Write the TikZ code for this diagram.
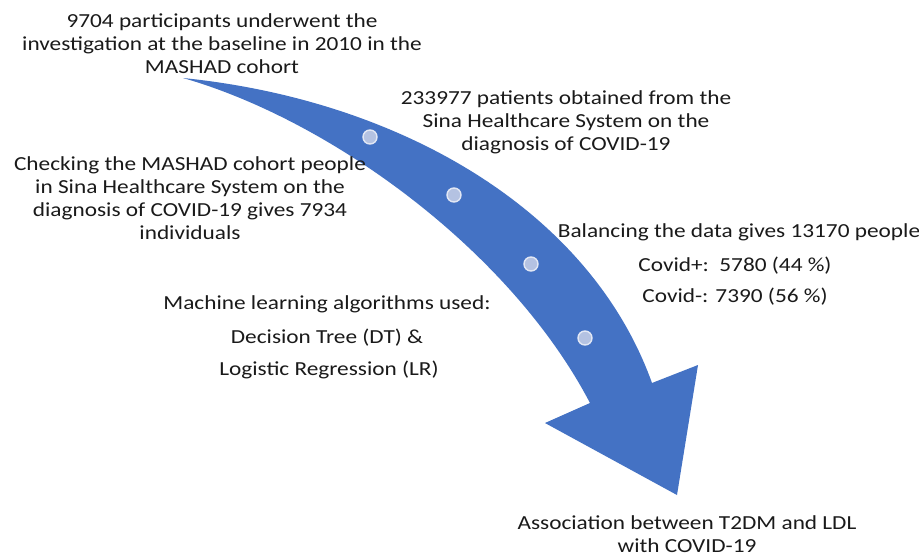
\documentclass[tikz,border=0pt]{standalone}
\usepackage{fontspec}
\setmainfont{Carlito}[FakeStretch=1.17]
\definecolor{arrowblue}{HTML}{4472C4}
\definecolor{dotfill}{HTML}{B4C2E2}
\definecolor{dotline}{HTML}{E2E7F4}
\definecolor{txt}{HTML}{1A1A1A}
\tikzset{
  lbl/.style={align=center, text=txt, inner sep=0pt, font=\fontsize{19.9}{23}\selectfont},
  dot/.style={circle, fill=dotfill, draw=dotline, line width=1.4pt, minimum size=14pt, inner sep=0pt}
}
\begin{document}
\begin{tikzpicture}[x=1pt,y=-1pt]
\useasboundingbox (0,0) rectangle (919,557);
\fill[white] (0,0) rectangle (919,557);
% curved arrow
\fill[arrowblue] (183,78) .. controls (400,100) and (590,210) .. (652,383)
  -- (698,365) -- (677,495) -- (545,423) -- (590,403)
  .. controls (510,250) and (330,120) .. (183,78) -- cycle;
% dots
\node[dot] (c1) at (370,137) {};
\node[dot] (c2) at (454,195) {};
\node[dot] (c3) at (531,264) {};
\node[dot] (c4) at (585,338) {};
% texts
\node[lbl] (t1) at (222,44) {9704 participants underwent the\\investigation at the baseline in 2010 in the\\MASHAD cohort};
\node[lbl] (t2) at (566,122) {233977 patients obtained from the\\Sina Healthcare System on the\\diagnosis of COVID-19};
\node[lbl] (t3) at (190,198) {Checking the MASHAD cohort people\\in Sina Healthcare System on the\\diagnosis of COVID-19 gives 7934\\individuals};
\node[lbl] (t4a) at (739,232) {Balancing the data gives 13170 people};
\node[lbl] (t4b) at (735,266) {Covid+:\ \ 5780 (44 \%)};
\node[lbl] (t4c) at (735,297) {Covid-: 7390 (56 \%)};
\node[lbl] (t5a) at (327,304) {Machine learning algorithms used:};
\node[lbl] (t5b) at (327,338) {Decision Tree (DT) \&};
\node[lbl] (t5c) at (329,370) {Logistic Regression (LR)};
\node[lbl] (t6) at (687,534) {Association between T2DM and LDL\\with COVID-19};
\end{tikzpicture}
\end{document}
